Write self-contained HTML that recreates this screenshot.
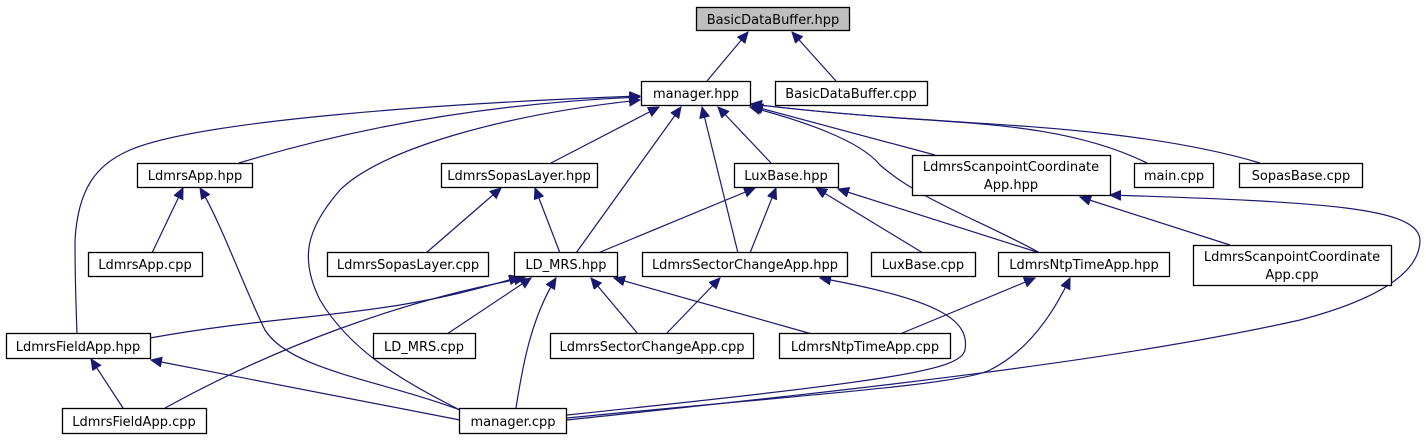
<!DOCTYPE html>
<html><head><meta charset="utf-8"><style>
html,body{margin:0;padding:0;background:#fff;}
svg{display:block;}
text{font-family:"DejaVu Sans","Liberation Sans",sans-serif;font-size:13px;fill:#000;}
rect{fill:#fff;stroke:#000;stroke-width:1.3;}
path{fill:none;stroke:#191970;stroke-width:1.2;}
</style></head><body>
<svg width="1426" height="440" viewBox="0 0 1426 440" xmlns="http://www.w3.org/2000/svg">
<defs>
<marker id="a" markerUnits="userSpaceOnUse" markerWidth="12" markerHeight="12" refX="11" refY="5" orient="auto">
<path d="M0,0 L11,5 L0,10 Z" style="fill:#191970;stroke:#191970;stroke-width:1"/>
</marker>
</defs>
<g marker-end="url(#a)">
<path d="M707,81 L748,32"/>
<path d="M836,81 L792,32"/>
<path d="M239,163 C380,120 520,102 640,97"/>
<path d="M77,334 C75,280 75,250 75,240 C78,190 95,165 130,150 C200,120 450,103 640,96"/>
<path d="M460,410 C400,380 350,350 320,300 C300,260 305,230 340,190 C380,150 500,115 640,100"/>
<path d="M551,163 L659,107"/>
<path d="M576,253 L681,107"/>
<path d="M738,253 L702,107"/>
<path d="M771,163 L718,107"/>
<path d="M1040,253 C980,220 920,200 880,165 C860,140 800,120 750,107"/>
<path d="M935,155 L752,106"/>
<path d="M1147,163 C1080,130 1000,125 930,120 C850,115 800,110 751,104"/>
<path d="M1260,163 C1150,130 1000,125 930,120 C850,115 800,110 751,104"/>
<path d="M598,253 L755,188"/>
<path d="M750,253 L776,188"/>
<path d="M923,253 L816,188"/>
<path d="M1040,253 L838,189"/>
<path d="M426,253 L501,188"/>
<path d="M560,253 L535,188"/>
<path d="M152,253 L183,188"/>
<path d="M460,410 C380,380 290,370 265,330 C245,290 220,220 200,188"/>
<path d="M1230,245 L1080,197"/>
<path d="M567,420 C800,395 1100,365 1300,320 C1395,295 1420,265 1420,240 C1418,208 1330,202 1110,195"/>
<path d="M150,338 C250,320 320,318 400,305 C460,295 490,285 520,277"/>
<path d="M165,408 C270,350 400,300 525,278"/>
<path d="M447,334 L531,278"/>
<path d="M516,408 C522,370 530,320 556,278"/>
<path d="M638,334 L591,278"/>
<path d="M812,334 L614,278"/>
<path d="M666,334 L720,278"/>
<path d="M567,415 C900,380 960,370 965,350 C970,320 940,300 820,278"/>
<path d="M900,334 L1035,278"/>
<path d="M567,418 C800,395 960,385 990,370 C1030,350 1055,310 1070,278"/>
<path d="M123,408 L91,359"/>
<path d="M460,420 L151,360"/>
</g>
<rect x="696.5" y="7.5" width="153" height="23" style="fill:#bfbfbf"/><text x="773" y="24" text-anchor="middle">BasicDataBuffer.hpp</text>
<rect x="641.5" y="81.5" width="109" height="24"/><text x="696" y="98" text-anchor="middle">manager.hpp</text>
<rect x="775.5" y="81.5" width="152" height="24"/><text x="851" y="98" text-anchor="middle">BasicDataBuffer.cpp</text>
<rect x="137.5" y="163.5" width="115" height="24"/><text x="195" y="180" text-anchor="middle">LdmrsApp.hpp</text>
<rect x="441.5" y="163.5" width="156" height="24"/><text x="519" y="180" text-anchor="middle">LdmrsSopasLayer.hpp</text>
<rect x="734.5" y="163.5" width="104" height="24"/><text x="786" y="180" text-anchor="middle">LuxBase.hpp</text>
<rect x="912.5" y="155.5" width="198" height="40"/><text x="1011" y="171" text-anchor="middle">LdmrsScanpointCoordinate</text><text x="1011" y="189" text-anchor="middle">App.hpp</text>
<rect x="1134.5" y="163.5" width="79" height="24"/><text x="1174" y="180" text-anchor="middle">main.cpp</text>
<rect x="1239.5" y="163.5" width="123" height="24"/><text x="1301" y="180" text-anchor="middle">SopasBase.cpp</text>
<rect x="88.5" y="252.5" width="114" height="24"/><text x="145" y="269" text-anchor="middle">LdmrsApp.cpp</text>
<rect x="327.5" y="252.5" width="161" height="24"/><text x="408" y="269" text-anchor="middle">LdmrsSopasLayer.cpp</text>
<rect x="514.5" y="252.5" width="103" height="24"/><text x="566" y="269" text-anchor="middle">LD_MRS.hpp</text>
<rect x="642.5" y="252.5" width="205" height="24"/><text x="745" y="269" text-anchor="middle">LdmrsSectorChangeApp.hpp</text>
<rect x="871.5" y="252.5" width="104" height="24"/><text x="923" y="269" text-anchor="middle">LuxBase.cpp</text>
<rect x="998.5" y="252.5" width="171" height="24"/><text x="1084" y="269" text-anchor="middle">LdmrsNtpTimeApp.hpp</text>
<rect x="1193.5" y="245.5" width="198" height="40"/><text x="1292" y="261" text-anchor="middle">LdmrsScanpointCoordinate</text><text x="1292" y="279" text-anchor="middle">App.cpp</text>
<rect x="6.5" y="333.5" width="144" height="25"/><text x="78" y="351" text-anchor="middle">LdmrsFieldApp.hpp</text>
<rect x="373.5" y="333.5" width="102" height="25"/><text x="424" y="351" text-anchor="middle">LD_MRS.cpp</text>
<rect x="550.5" y="333.5" width="203" height="25"/><text x="652" y="351" text-anchor="middle">LdmrsSectorChangeApp.cpp</text>
<rect x="779.5" y="333.5" width="171" height="25"/><text x="865" y="351" text-anchor="middle">LdmrsNtpTimeApp.cpp</text>
<rect x="62.5" y="408.5" width="144" height="25"/><text x="134" y="426" text-anchor="middle">LdmrsFieldApp.cpp</text>
<rect x="459.5" y="408.5" width="107" height="25"/><text x="513" y="426" text-anchor="middle">manager.cpp</text>
</svg>
</body></html>
